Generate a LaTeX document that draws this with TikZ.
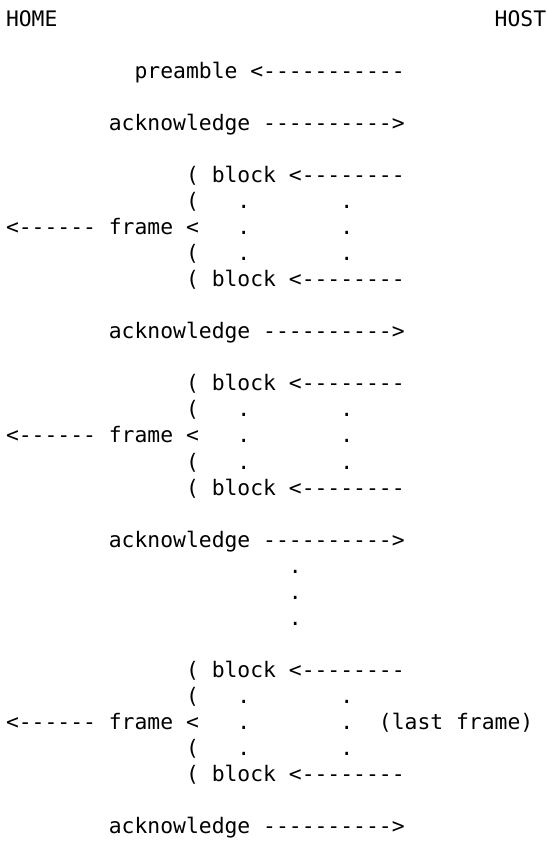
\documentclass[tikz,border=0pt]{standalone}
\usepackage{fontspec}
\setmonofont{DejaVu Sans Mono}
\begin{document}
\begin{tikzpicture}[x=12.86pt, y=-26.06pt,
  mono/.style={inner sep=0pt, outer sep=0pt, anchor=base west,
    font=\ttfamily\fontsize{21.36pt}{26pt}\selectfont}]
\useasboundingbox (0pt,0pt) rectangle (547pt,-844pt);
% character grid: x = column, y = text line (baseline)
\begin{scope}[shift={(0.4666,0.9977)}]
  % headings
  \node[mono] (home) at (0,0) {HOME};
  \node[mono] (host) at (38,0) {HOST};
  % preamble from the host
  \node[mono] (pre) at (10,2) {preamble};
  \node[mono] (preArr) at (19,2) {<-----------};
  % acknowledgements to the host
  \foreach \k/\r in {1/4, 2/12, 3/20, 4/31} {
    \node[mono] (ack\k) at (8,\r) {acknowledge};
    \node[mono] (ackArr\k) at (20,\r) {---------->};
  }
  % frames made of blocks
  \foreach \k/\r in {1/6, 2/14, 3/25} {
    \node[mono] (parA\k) at (14,\r) {(};
    \node[mono] (blkA\k) at (16,\r) {block};
    \node[mono] (blkArrA\k) at (22,\r) {<--------};
    \node[mono] (parB\k) at (14,\r+1) {(};
    \node[mono] (dotB\k) at (18,\r+1) {.};
    \node[mono] (dotBr\k) at (26,\r+1) {.};
    \node[mono] (frmArr\k) at (0,\r+2) {<------};
    \node[mono] (frm\k) at (8,\r+2) {frame};
    \node[mono] (frmLt\k) at (14,\r+2) {<};
    \node[mono] (dotC\k) at (18,\r+2) {.};
    \node[mono] (dotCr\k) at (26,\r+2) {.};
    \node[mono] (parD\k) at (14,\r+3) {(};
    \node[mono] (dotD\k) at (18,\r+3) {.};
    \node[mono] (dotDr\k) at (26,\r+3) {.};
    \node[mono] (parE\k) at (14,\r+4) {(};
    \node[mono] (blkE\k) at (16,\r+4) {block};
    \node[mono] (blkArrE\k) at (22,\r+4) {<--------};
  }
  \node[mono] (last) at (29,27) {(last frame)};
  % more frames in between
  \foreach \r in {21,22,23}
    \node[mono] (vdot\r) at (22,\r) {.};
\end{scope}
\end{tikzpicture}
\end{document}
